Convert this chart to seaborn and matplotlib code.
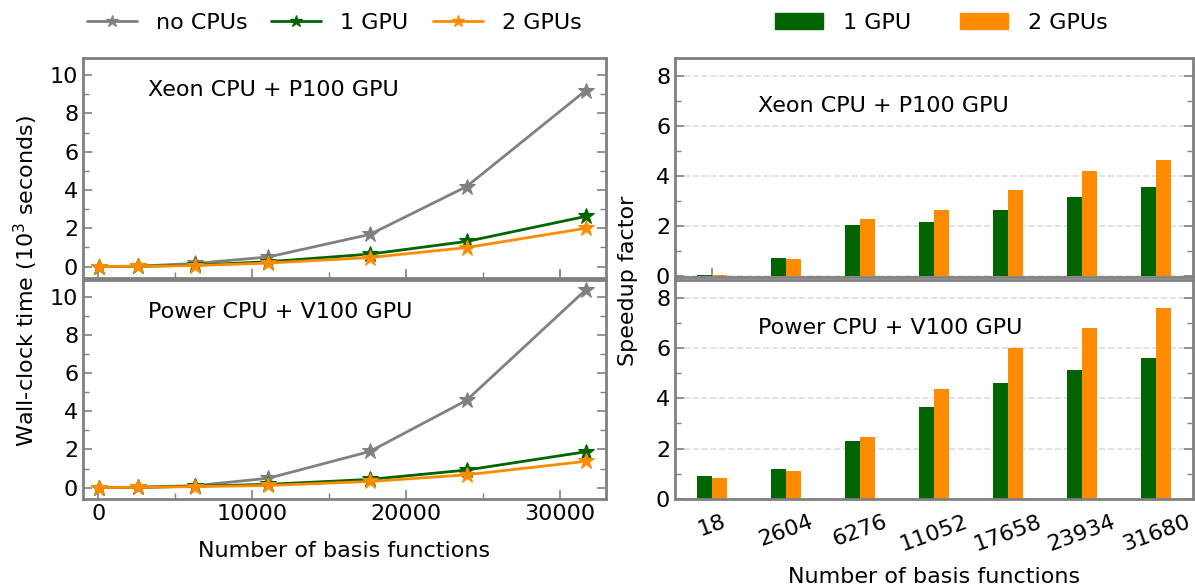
import numpy as np
import pandas as pd
import matplotlib
matplotlib.use("Agg")
import matplotlib.pyplot as plt
import seaborn as sns
from matplotlib.ticker import MultipleLocator
from matplotlib.lines import Line2D
from matplotlib.patches import Patch

# ---------------- data ----------------
basis = [18, 2604, 6276, 11052, 17658, 23934, 31680]
basis_labels = ["18", "2604", "6276", "11052", "17658", "23934", "31680"]

# wall-clock time (10^3 s), Xeon CPU + P100 GPU
xeon_nocpu = [0.0, 0.02, 0.16, 0.50, 1.68, 4.18, 9.20]
xeon_1gpu = [0.0, 0.01, 0.07, 0.25, 0.65, 1.31, 2.62]
xeon_2gpu = [0.0, 0.01, 0.05, 0.18, 0.47, 0.99, 2.00]
# wall-clock time (10^3 s), Power CPU + V100 GPU
power_nocpu = [0.0, 0.02, 0.10, 0.49, 1.90, 4.58, 10.38]
power_1gpu = [0.0, 0.01, 0.07, 0.17, 0.43, 0.92, 1.88]
power_2gpu = [0.0, 0.01, 0.05, 0.11, 0.32, 0.67, 1.38]

# speedup factors
xeon_speed_1gpu = [0.02, 0.70, 2.02, 2.14, 2.62, 3.14, 3.53]
xeon_speed_2gpu = [0.02, 0.66, 2.26, 2.62, 3.42, 4.17, 4.61]
power_speed_1gpu = [0.92, 1.20, 2.32, 3.65, 4.61, 5.13, 5.61]
power_speed_2gpu = [0.84, 1.12, 2.48, 4.37, 6.00, 6.81, 7.57]

line_series = ["no CPUs", "1 GPU", "2 GPUs"]
bar_series = ["1 GPU", "2 GPUs"]
colors = {"no CPUs": "#808080", "1 GPU": "#006400", "2 GPUs": "#FF8C00"}

# ---------------- style ----------------
sns.set_theme(style="white")
plt.rcParams["font.family"] = ["DejaVu Sans"]
plt.rcParams["text.color"] = "black"
plt.rcParams["axes.labelcolor"] = "black"
plt.rcParams["xtick.color"] = "black"
plt.rcParams["ytick.color"] = "black"
FS = 16
SPINE = "#808080"

fig = plt.figure(figsize=(11.95, 5.86), dpi=100)

def frac(x0, y0, x1, y1):
    W, H = 1195, 586
    return [x0 / W, 1 - y1 / H, (x1 - x0) / W, (y1 - y0) / H]

ax_lt = fig.add_axes(frac(83, 58, 606, 278))
ax_lb = fig.add_axes(frac(83, 280, 606, 499))
ax_rt = fig.add_axes(frac(675, 58, 1193, 277))
ax_rb = fig.add_axes(frac(675, 280, 1193, 499))


def style_axes(ax):
    for s in ax.spines.values():
        s.set_color(SPINE)
        s.set_linewidth(2)
    ax.tick_params(which="both", direction="in", color=SPINE, labelsize=FS,
                   labelcolor="black",
                   left=True, right=True, bottom=True, top=False)
    ax.tick_params(which="major", length=6.5, width=1.2)
    ax.tick_params(which="minor", length=4.3, width=1.0)


def line_df(a, b, c):
    rows = []
    for name, vals in zip(line_series, [a, b, c]):
        for x, v in zip(basis, vals):
            rows.append({"basis": x, "time": v, "series": name})
    return pd.DataFrame(rows)


def bar_df(a, b):
    rows = []
    for name, vals in zip(bar_series, [a, b]):
        for lab, v in zip(basis_labels, vals):
            rows.append({"basis": lab, "speedup": v, "series": name})
    return pd.DataFrame(rows)


for ax, vals, title in [
    (ax_lt, (xeon_nocpu, xeon_1gpu, xeon_2gpu), "Xeon CPU + P100 GPU"),
    (ax_lb, (power_nocpu, power_1gpu, power_2gpu), "Power CPU + V100 GPU"),
]:
    df = line_df(*vals)
    sns.lineplot(data=df, x="basis", y="time", hue="series", hue_order=line_series,
                 palette=colors, marker="*", markersize=12,
                 linewidth=2, ax=ax, legend=False)
    for ln in ax.lines:
        ln.set_markeredgecolor(ln.get_color())
        ln.set_markerfacecolor(ln.get_color())
    ax.set_xlim(-1000, 33000)
    ax.set_ylim(-0.6, 10.9)
    ax.xaxis.set_major_locator(MultipleLocator(10000))
    ax.xaxis.set_minor_locator(MultipleLocator(5000))
    ax.yaxis.set_major_locator(MultipleLocator(2))
    ax.yaxis.set_minor_locator(MultipleLocator(1))
    style_axes(ax)
    ax.set_xlabel("")
    ax.set_ylabel("")
    ax.text(0.125, 0.855, title, transform=ax.transAxes, fontsize=FS, ha="left", va="center")

ax_lt.tick_params(labelbottom=False)
ax_lb.set_xlabel("Number of basis functions", fontsize=FS, labelpad=12)

for ax, vals, title in [
    (ax_rt, (xeon_speed_1gpu, xeon_speed_2gpu), "Xeon CPU + P100 GPU"),
    (ax_rb, (power_speed_1gpu, power_speed_2gpu), "Power CPU + V100 GPU"),
]:
    df = bar_df(*vals)
    sns.barplot(data=df, x="basis", y="speedup", hue="series", hue_order=bar_series,
                order=basis_labels, palette=colors, width=0.4, saturation=1,
                linewidth=0, ax=ax, legend=False)
    ax.set_xlim(-0.5, 6.5)
    ax.set_ylim(-0.05, 8.7)
    ax.yaxis.set_major_locator(MultipleLocator(2))
    ax.yaxis.set_minor_locator(MultipleLocator(1))
    ax.grid(axis="y", which="major", linestyle="--", color="#dddddd", linewidth=1.2)
    ax.set_axisbelow(True)
    style_axes(ax)
    ax.set_xlabel("")
    ax.set_ylabel("")
    ax.text(0.16, 0.78, title, transform=ax.transAxes, fontsize=FS, ha="left", va="center")

ax_rt.tick_params(labelbottom=False)
ax_rb.set_ylim(0, 8.7)
ax_rb.tick_params(axis="x", pad=9)
plt.setp(ax_rb.get_xticklabels(), rotation=20, ha="center")
ax_rb.set_xlabel("Number of basis functions", fontsize=FS, labelpad=9)

fig.text(0.010, 0.52, "Wall-clock time (10$^3$ seconds)", rotation=90,
         fontsize=FS, ha="left", va="center")
fig.text(0.517, 0.52, "Speedup factor", rotation=90,
         fontsize=FS, ha="left", va="center")

# legends
lh = [Line2D([0], [0], color=colors[s], lw=2, marker="*", markersize=9) for s in line_series]
fig.legend(lh, line_series, loc="center", bbox_to_anchor=(0.2795, 0.961), ncol=3,
           frameon=False, fontsize=FS, handlelength=2.25, handletextpad=0.86,
           columnspacing=1.08)
bh = [Patch(color=colors[s]) for s in bar_series]
fig.legend(bh, bar_series, loc="center", bbox_to_anchor=(0.7875, 0.961), ncol=2,
           frameon=False, fontsize=FS, handlelength=2.16, handletextpad=0.9,
           columnspacing=2.2)

fig.savefig("out.png", dpi=100)
